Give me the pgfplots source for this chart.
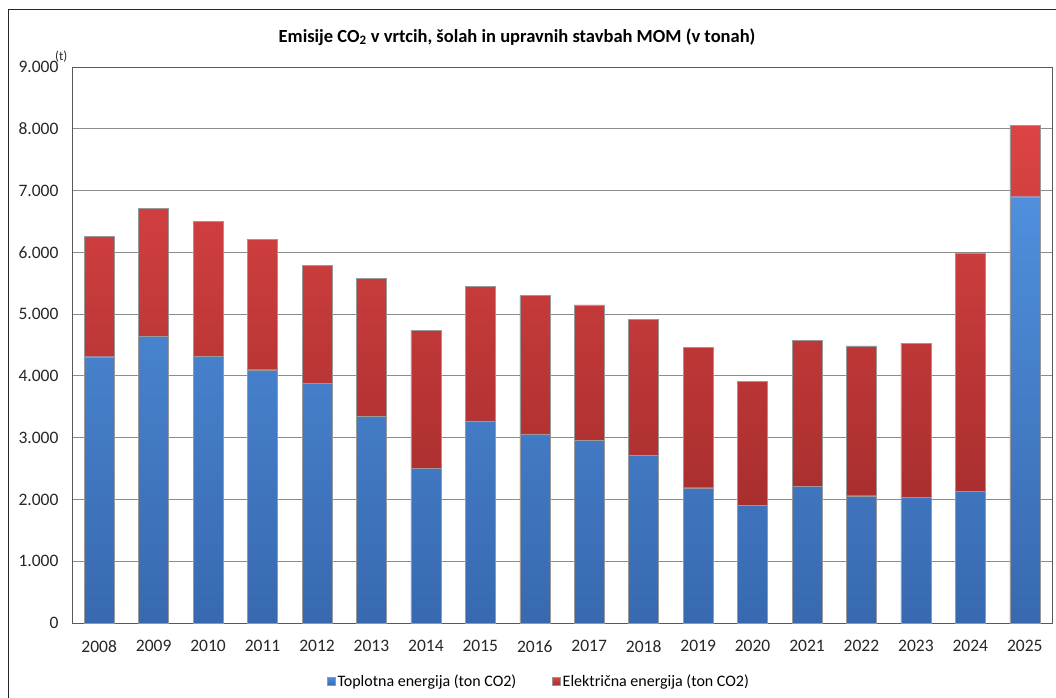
\documentclass[border=0pt]{standalone}
\usepackage{pgfplots}
\pgfplotsset{compat=1.18}
\usepackage{pgfplotstable}
\usepackage{fontspec}
\setmainfont{Carlito}
\definecolor{bluetop}{HTML}{4F8FDC}
\definecolor{bluebot}{HTML}{3869B0}
\definecolor{redtop}{HTML}{DC4444}
\definecolor{redbot}{HTML}{A92E2E}
\definecolor{gridc}{HTML}{8C8C8C}
\pgfplotstableread{
x year toplotna elektricna
0 2008 4310 1950
1 2009 4635 2075
2 2010 4320 2180
3 2011 4100 2110
4 2012 3885 1905
5 2013 3340 2240
6 2014 2505 2230
7 2015 3270 2175
8 2016 3060 2240
9 2017 2960 2190
10 2018 2710 2210
11 2019 2190 2270
12 2020 1910 2000
13 2021 2215 2365
14 2022 2060 2425
15 2023 2030 2500
16 2024 2130 3855
17 2025 6900 1155
}\datatable
\begin{document}
\begin{tikzpicture}
\path[use as bounding box] (0pt,0pt) rectangle (1056pt,697pt);
\draw[line width=1pt, black!85] (8pt,-5pt) -- (8pt,687pt) -- (1062pt,687pt);
\node[font=\fontsize{18.5}{20}\selectfont\bfseries] at (517pt,660pt) {Emisije CO\textsubscript{2} v vrtcih, šolah in upravnih stavbah MOM (v tonah)};
\begin{axis}[
  at={(72pt,74pt)}, anchor=south west,
  scale only axis, width=980pt, height=556pt,
  ybar stacked, bar width=30pt,
  xmin=-0.5, xmax=17.5, ymin=0, ymax=9000,
  xtick=data, xticklabels={2008,2009,2010,2011,2012,2013,2014,2015,2016,2017,2018,2019,2020,2021,2022,2023,2024,2025},
  ytick={0,1000,...,9000},
  /pgf/number format/.cd, 1000 sep={.}, assume math mode=true,
  /pgfplots/.cd,
  ymajorgrids, grid style={gridc, line width=0.9pt},
  axis line style={black!65, line width=0.9pt},
  major tick length=0pt,
  tick label style={font=\fontsize{17.5}{19}\selectfont, text=black!85},
  yticklabel style={xshift=-10pt},
  xticklabel style={yshift=-14pt},
  legend style={at={(0.5,-0.085)}, xshift=-23pt, anchor=north, draw=none, font=\fontsize{16}{18}\selectfont, legend columns=2, /tikz/every even column/.append style={column sep=34pt}},
  legend image code/.code={\draw[#1, draw=black!40] (0pt,-4pt) rectangle (8pt,4pt);},
  clip=false,
]
\addplot[draw=black!40, line width=0.4pt, top color=bluetop, bottom color=bluebot] table[x=x,y=toplotna]{\datatable};
\addlegendentry{Toplotna energija (ton CO2)}
\addplot[draw=black!40, line width=0.4pt, top color=redtop, bottom color=redbot] table[x=x,y=elektricna]{\datatable};
\addlegendentry{Električna energija (ton CO2)}
\end{axis}
\node[font=\fontsize{13}{14}\selectfont, anchor=south west, inner sep=0pt, text=black!85] at (55pt,634pt) {(t)};
\end{tikzpicture}
\end{document}
